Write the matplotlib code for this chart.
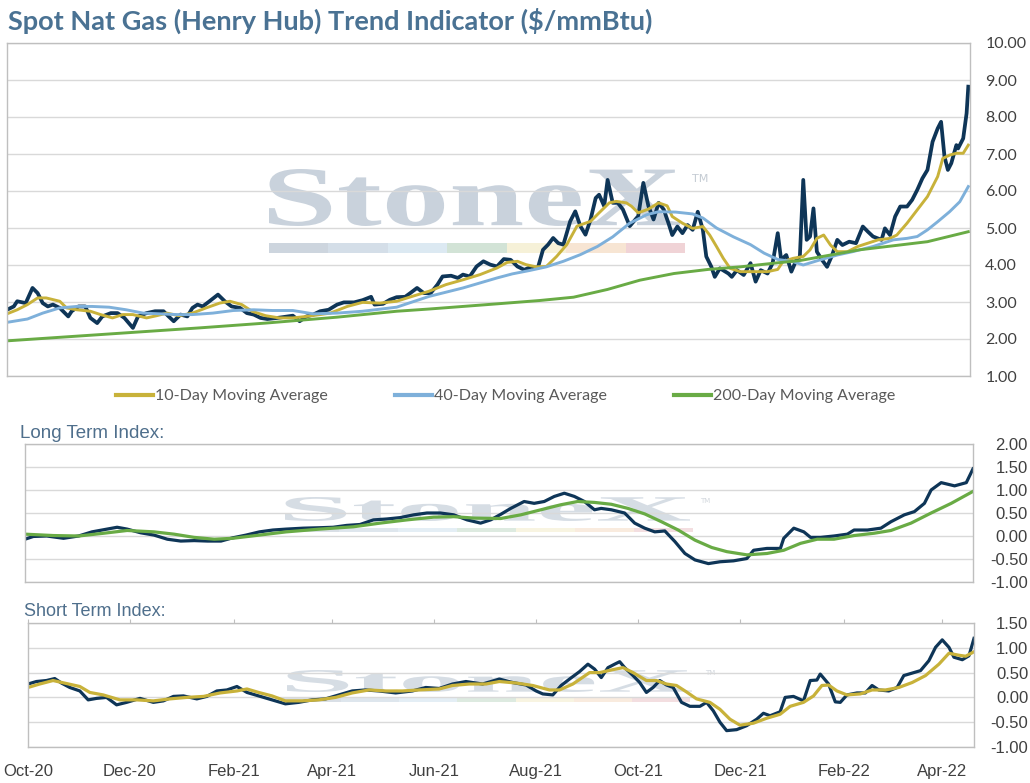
import numpy as np
import pandas as pd
import matplotlib
matplotlib.use("Agg")
import matplotlib.pyplot as plt
import matplotlib.dates as mdates
from matplotlib.textpath import TextPath
from matplotlib.font_manager import FontProperties
from matplotlib.patches import PathPatch, Rectangle
from matplotlib.path import Path

# ---------------- data ----------------
spot_dates = ["2020-10-01", "2020-10-05", "2020-10-07", "2020-10-12", "2020-10-16", "2020-10-19", "2020-10-22",
              "2020-10-25", "2020-10-28", "2020-11-01", "2020-11-06", "2020-11-08", "2020-11-12", "2020-11-16",
              "2020-11-19", "2020-11-23", "2020-11-26", "2020-12-01", "2020-12-05", "2020-12-09", "2020-12-14",
              "2020-12-17", "2020-12-22", "2020-12-27", "2021-01-01", "2021-01-04", "2021-01-07", "2021-01-11",
              "2021-01-15", "2021-01-18", "2021-01-21", "2021-01-24", "2021-01-28", "2021-02-02", "2021-02-06",
              "2021-02-10", "2021-02-15", "2021-02-19", "2021-02-23", "2021-02-27", "2021-03-03", "2021-03-09",
              "2021-03-15", "2021-03-18", "2021-03-22", "2021-03-26", "2021-03-30", "2021-04-03", "2021-04-08",
              "2021-04-13", "2021-04-17", "2021-04-23", "2021-04-28", "2021-05-03", "2021-05-05", "2021-05-10",
              "2021-05-14", "2021-05-18", "2021-05-23", "2021-05-26", "2021-05-30", "2021-06-03", "2021-06-07",
              "2021-06-11", "2021-06-14", "2021-06-19", "2021-06-23", "2021-06-26", "2021-06-30", "2021-07-04",
              "2021-07-08", "2021-07-12", "2021-07-16", "2021-07-20", "2021-07-24", "2021-07-28", "2021-08-01",
              "2021-08-05", "2021-08-09", "2021-08-12", "2021-08-15", "2021-08-18", "2021-08-21", "2021-08-24",
              "2021-08-28", "2021-08-31", "2021-09-03", "2021-09-06", "2021-09-09", "2021-09-12", "2021-09-14",
              "2021-09-17", "2021-09-19", "2021-09-22", "2021-09-25", "2021-09-28", "2021-10-02", "2021-10-07",
              "2021-10-10", "2021-10-13", "2021-10-16", "2021-10-19", "2021-10-22", "2021-10-25", "2021-10-27",
              "2021-10-30", "2021-11-02", "2021-11-05", "2021-11-08", "2021-11-11", "2021-11-14", "2021-11-16",
              "2021-11-19", "2021-11-21", "2021-11-24", "2021-11-29", "2021-12-01", "2021-12-04", "2021-12-08",
              "2021-12-12", "2021-12-15", "2021-12-18", "2021-12-22", "2021-12-25", "2021-12-28", "2021-12-30",
              "2022-01-02", "2022-01-05", "2022-01-08", "2022-01-10", "2022-01-12", "2022-01-14", "2022-01-16",
              "2022-01-18", "2022-01-20", "2022-01-23", "2022-01-26", "2022-01-29", "2022-02-01", "2022-02-04",
              "2022-02-08", "2022-02-12", "2022-02-16", "2022-02-19", "2022-02-22", "2022-02-27", "2022-03-01",
              "2022-03-04", "2022-03-07", "2022-03-10", "2022-03-14", "2022-03-17", "2022-03-20", "2022-03-23",
              "2022-03-26", "2022-03-29", "2022-04-01", "2022-04-03", "2022-04-05", "2022-04-07", "2022-04-09",
              "2022-04-12", "2022-04-13", "2022-04-16", "2022-04-18", "2022-04-19"]
spot_px = [2.79, 2.88, 3.02, 2.97, 3.38, 3.24, 2.97, 2.88, 2.93, 2.84, 2.61, 2.75, 2.88, 2.88, 2.57, 2.43, 2.61,
           2.70, 2.70, 2.57, 2.30, 2.61, 2.70, 2.75, 2.75, 2.61, 2.48, 2.66, 2.61, 2.84, 2.93, 2.88, 3.02, 3.20,
           3.02, 2.88, 2.84, 2.70, 2.66, 2.57, 2.54, 2.57, 2.61, 2.63, 2.48, 2.61, 2.66, 2.75, 2.79, 2.93, 2.99,
           2.99, 3.05, 3.14, 2.93, 2.95, 3.06, 3.13, 3.14, 3.24, 3.38, 3.24, 3.24, 3.47, 3.69, 3.71, 3.65, 3.74,
           3.69, 3.96, 4.10, 4.01, 3.96, 4.16, 4.14, 3.96, 3.87, 3.95, 3.92, 4.41, 4.55, 4.73, 4.59, 4.55, 5.18,
           5.45, 5.05, 4.82, 5.23, 5.81, 5.90, 5.59, 6.30, 5.68, 5.68, 5.50, 5.05, 5.32, 6.22, 5.59, 5.23, 5.68,
           5.50, 5.10, 4.81, 5.04, 4.86, 5.08, 4.95, 5.44, 4.95, 4.23, 3.95, 3.68, 3.91, 3.77, 3.68, 3.86, 3.73,
           4.05, 3.55, 3.86, 3.77, 4.05, 4.86, 4.14, 4.27, 3.82, 4.14, 4.23, 6.30, 4.68, 4.77, 5.53, 4.36, 4.14,
           3.95, 4.27, 4.68, 4.54, 4.63, 4.59, 5.04, 4.90, 4.77, 4.68, 4.99, 4.81, 5.31, 5.58, 5.58, 5.76, 6.03,
           6.34, 6.57, 7.33, 7.69, 7.87, 6.93, 6.57, 6.75, 7.24, 7.15, 7.42, 8.10, 8.82]

ma10_dates = ["2020-10-01", "2020-10-07", "2020-10-13", "2020-10-19", "2020-10-24", "2020-11-01", "2020-11-05",
              "2020-11-11", "2020-11-19", "2020-11-25", "2020-12-02", "2020-12-08", "2020-12-14", "2020-12-22",
              "2020-12-28", "2021-01-03", "2021-01-10", "2021-01-18", "2021-01-26", "2021-02-03", "2021-02-09",
              "2021-02-16", "2021-02-22", "2021-03-02", "2021-03-10", "2021-03-18", "2021-03-26", "2021-04-03",
              "2021-04-09", "2021-04-19", "2021-04-28", "2021-05-08", "2021-05-18", "2021-05-27", "2021-06-06",
              "2021-06-16", "2021-06-26", "2021-07-06", "2021-07-16", "2021-07-22", "2021-07-28", "2021-08-02",
              "2021-08-08", "2021-08-14", "2021-08-20", "2021-08-26", "2021-09-01", "2021-09-09", "2021-09-14",
              "2021-09-20", "2021-09-24", "2021-09-30", "2021-10-03", "2021-10-07", "2021-10-13", "2021-10-19",
              "2021-10-24", "2021-10-27", "2021-11-02", "2021-11-08", "2021-11-14", "2021-11-18", "2021-11-22",
              "2021-11-26", "2021-11-30", "2021-12-06", "2021-12-13", "2021-12-22", "2021-12-28", "2021-12-31",
              "2022-01-06", "2022-01-12", "2022-01-16", "2022-01-20", "2022-01-24", "2022-01-28", "2022-02-01",
              "2022-02-07", "2022-02-13", "2022-02-19", "2022-02-25", "2022-03-04", "2022-03-08", "2022-03-14",
              "2022-03-20", "2022-03-26", "2022-04-01", "2022-04-04", "2022-04-08", "2022-04-12", "2022-04-16",
              "2022-04-19"]
ma10_px = [2.68, 2.79, 2.93, 3.11, 3.11, 3.02, 2.84, 2.79, 2.75, 2.66, 2.57, 2.66, 2.66, 2.57, 2.63, 2.70, 2.63,
           2.70, 2.84, 2.97, 3.02, 2.93, 2.75, 2.63, 2.57, 2.57, 2.61, 2.66, 2.70, 2.88, 2.99, 2.97, 3.02, 3.15,
           3.29, 3.47, 3.60, 3.74, 3.92, 4.07, 4.10, 4.01, 3.95, 3.96, 4.23, 4.55, 5.05, 5.18, 5.41, 5.68, 5.72,
           5.68, 5.59, 5.41, 5.51, 5.68, 5.60, 5.31, 5.13, 4.99, 5.04, 4.81, 4.50, 4.18, 3.91, 3.82, 3.82, 3.82,
           3.88, 4.09, 4.18, 4.23, 4.41, 4.72, 4.81, 4.54, 4.36, 4.36, 4.50, 4.59, 4.68, 4.72, 4.81, 5.13, 5.49,
           5.85, 6.39, 6.88, 6.97, 7.02, 7.02, 7.24]

ma40_dates = ["2020-10-01", "2020-10-13", "2020-10-22", "2020-11-01", "2020-11-11", "2020-11-20", "2020-11-30",
              "2020-12-10", "2020-12-20", "2020-12-30", "2021-01-09", "2021-01-18", "2021-01-30", "2021-02-11",
              "2021-02-23", "2021-03-06", "2021-03-18", "2021-03-30", "2021-04-13", "2021-04-28", "2021-05-18",
              "2021-06-06", "2021-06-26", "2021-07-16", "2021-07-25", "2021-08-04", "2021-08-14", "2021-08-24",
              "2021-09-03", "2021-09-13", "2021-09-22", "2021-10-02", "2021-10-12", "2021-10-19", "2021-10-29",
              "2021-11-08", "2021-11-14", "2021-11-22", "2021-12-02", "2021-12-12", "2021-12-20", "2021-12-28",
              "2022-01-06", "2022-01-12", "2022-01-22", "2022-02-01", "2022-02-10", "2022-02-22", "2022-03-06",
              "2022-03-14", "2022-03-20", "2022-03-26", "2022-04-01", "2022-04-08", "2022-04-14", "2022-04-19"]
ma40_px = [2.45, 2.54, 2.70, 2.84, 2.88, 2.88, 2.86, 2.79, 2.70, 2.68, 2.66, 2.66, 2.70, 2.77, 2.79, 2.77, 2.77,
           2.68, 2.70, 2.75, 2.86, 3.15, 3.38, 3.65, 3.76, 3.85, 3.95, 4.10, 4.28, 4.50, 4.76, 5.13, 5.36, 5.44,
           5.43, 5.38, 5.27, 5.00, 4.76, 4.55, 4.32, 4.15, 4.09, 4.00, 4.14, 4.27, 4.36, 4.50, 4.68, 4.72, 4.77,
           4.95, 5.17, 5.44, 5.71, 6.12]

ma200_dates = ["2020-10-01", "2020-11-25", "2021-01-22", "2021-03-02", "2021-04-13", "2021-05-18", "2021-06-06",
               "2021-06-26", "2021-07-16", "2021-08-10", "2021-08-30", "2021-09-19", "2021-10-08", "2021-10-28",
               "2021-11-17", "2021-12-06", "2021-12-26", "2022-01-10", "2022-02-14", "2022-03-26", "2022-04-19"]
ma200_px = [1.95, 2.12, 2.30, 2.43, 2.59, 2.75, 2.81, 2.88, 2.95, 3.04, 3.13, 3.34, 3.59, 3.77, 3.88, 3.95, 4.05,
            4.12, 4.41, 4.63, 4.90]

lt_dates = ["2020-10-01", "2020-10-06", "2020-10-14", "2020-10-24", "2020-11-02", "2020-11-10", "2020-11-19",
            "2020-11-25", "2020-12-01", "2020-12-09", "2020-12-17", "2020-12-25", "2021-01-02", "2021-01-10",
            "2021-01-18", "2021-01-26", "2021-02-02", "2021-02-10", "2021-02-18", "2021-02-26", "2021-03-06",
            "2021-03-16", "2021-03-26", "2021-04-03", "2021-04-11", "2021-04-19", "2021-04-27", "2021-05-05",
            "2021-05-13", "2021-05-21", "2021-05-29", "2021-06-06", "2021-06-14", "2021-06-22", "2021-06-30",
            "2021-07-06", "2021-07-12", "2021-07-18", "2021-07-26", "2021-08-01", "2021-08-07", "2021-08-13",
            "2021-08-19", "2021-08-25", "2021-08-31", "2021-09-06", "2021-09-10", "2021-09-16", "2021-09-24",
            "2021-09-30", "2021-10-06", "2021-10-12", "2021-10-18", "2021-10-24", "2021-10-30", "2021-11-05",
            "2021-11-13", "2021-11-20", "2021-11-28", "2021-12-06", "2021-12-10", "2021-12-18", "2021-12-26",
            "2021-12-28", "2022-01-03", "2022-01-09", "2022-01-13", "2022-01-19", "2022-01-27", "2022-02-04",
            "2022-02-08", "2022-02-16", "2022-02-24", "2022-03-02", "2022-03-10", "2022-03-16", "2022-03-22",
            "2022-03-26", "2022-04-01", "2022-04-09", "2022-04-16", "2022-04-20"]
lt_idx = [-0.07, -0.01, 0.00, -0.05, 0.00, 0.09, 0.15, 0.19, 0.15, 0.07, 0.02, -0.07, -0.11, -0.10, -0.11, -0.11,
          -0.04, 0.02, 0.09, 0.13, 0.15, 0.17, 0.18, 0.19, 0.23, 0.25, 0.35, 0.37, 0.40, 0.46, 0.50, 0.50, 0.46,
          0.35, 0.28, 0.35, 0.47, 0.60, 0.75, 0.71, 0.75, 0.86, 0.93, 0.86, 0.75, 0.57, 0.60, 0.57, 0.50, 0.28,
          0.17, 0.09, 0.11, -0.12, -0.38, -0.52, -0.60, -0.56, -0.54, -0.49, -0.31, -0.27, -0.27, -0.05, 0.17,
          0.09, -0.03, -0.03, 0.00, 0.04, 0.13, 0.13, 0.17, 0.31, 0.46, 0.53, 0.71, 1.00, 1.16, 1.09, 1.16, 1.46]

lt_ma_dates = ["2020-10-01", "2020-10-18", "2020-11-02", "2020-11-17", "2020-12-01", "2020-12-17", "2020-12-29",
               "2021-01-10", "2021-01-22", "2021-02-02", "2021-02-18", "2021-03-06", "2021-03-26", "2021-04-15",
               "2021-05-01", "2021-05-17", "2021-06-02", "2021-06-14", "2021-06-26", "2021-07-12", "2021-07-24",
               "2021-08-05", "2021-08-17", "2021-08-27", "2021-09-06", "2021-09-16", "2021-09-26", "2021-10-06",
               "2021-10-16", "2021-10-26", "2021-11-05", "2021-11-15", "2021-11-24", "2021-12-06", "2021-12-18",
               "2021-12-28", "2022-01-07", "2022-01-17", "2022-01-27", "2022-02-08", "2022-02-20", "2022-03-02",
               "2022-03-14", "2022-03-26", "2022-04-07", "2022-04-20"]
lt_ma = [0.04, 0.01, 0.00, 0.06, 0.12, 0.09, 0.04, -0.03, -0.07, -0.05, 0.02, 0.09, 0.15, 0.20, 0.28, 0.35, 0.41,
         0.42, 0.39, 0.38, 0.46, 0.57, 0.68, 0.75, 0.73, 0.69, 0.60, 0.48, 0.31, 0.13, -0.09, -0.25, -0.34, -0.41,
         -0.38, -0.31, -0.16, -0.07, -0.07, 0.01, 0.06, 0.12, 0.28, 0.50, 0.71, 0.97]

st_dates = ["2020-10-01", "2020-10-06", "2020-10-12", "2020-10-17", "2020-10-21", "2020-10-26", "2020-11-01",
            "2020-11-06", "2020-11-11", "2020-11-17", "2020-11-23", "2020-11-29", "2020-12-07", "2020-12-15",
            "2020-12-21", "2020-12-27", "2021-01-02", "2021-01-10", "2021-01-16", "2021-01-22", "2021-01-28",
            "2021-02-03", "2021-02-09", "2021-02-16", "2021-02-24", "2021-03-04", "2021-03-12", "2021-03-20",
            "2021-03-28", "2021-04-05", "2021-04-13", "2021-04-21", "2021-04-29", "2021-05-09", "2021-05-19",
            "2021-05-27", "2021-06-04", "2021-06-12", "2021-06-20", "2021-06-30", "2021-07-10", "2021-07-18",
            "2021-07-26", "2021-08-01", "2021-08-05", "2021-08-11", "2021-08-16", "2021-08-21", "2021-08-27",
            "2021-09-01", "2021-09-05", "2021-09-09", "2021-09-13", "2021-09-17", "2021-09-20", "2021-09-23",
            "2021-09-28", "2021-10-02", "2021-10-06", "2021-10-10", "2021-10-14", "2021-10-18", "2021-10-22",
            "2021-10-27", "2021-11-01", "2021-11-07", "2021-11-11", "2021-11-15", "2021-11-19", "2021-11-23",
            "2021-11-29", "2021-12-05", "2021-12-11", "2021-12-15", "2021-12-19", "2021-12-25", "2021-12-28",
            "2022-01-02", "2022-01-08", "2022-01-12", "2022-01-16", "2022-01-18", "2022-01-23", "2022-01-27",
            "2022-01-30", "2022-02-03", "2022-02-09", "2022-02-14", "2022-02-18", "2022-02-22", "2022-02-28",
            "2022-03-05", "2022-03-09", "2022-03-14", "2022-03-19", "2022-03-24", "2022-03-28", "2022-04-01",
            "2022-04-05", "2022-04-08", "2022-04-13", "2022-04-17", "2022-04-20"]
st_idx = [0.27, 0.32, 0.34, 0.38, 0.29, 0.20, 0.13, -0.05, -0.02, 0.00, -0.15, -0.10, -0.02, -0.10, -0.07, 0.02,
          0.03, -0.03, 0.02, 0.13, 0.15, 0.22, 0.10, 0.03, -0.05, -0.13, -0.10, -0.05, -0.03, 0.05, 0.13, 0.15,
          0.13, 0.09, 0.13, 0.20, 0.18, 0.27, 0.32, 0.27, 0.37, 0.30, 0.25, 0.13, 0.07, 0.05, 0.24, 0.37, 0.52,
          0.67, 0.57, 0.40, 0.60, 0.67, 0.72, 0.60, 0.44, 0.30, 0.10, 0.20, 0.34, 0.25, 0.20, -0.10, -0.18, -0.18,
          -0.10, -0.27, -0.50, -0.67, -0.65, -0.57, -0.44, -0.32, -0.37, -0.29, 0.00, 0.02, -0.07, 0.34, 0.35,
          0.47, 0.27, -0.09, -0.10, 0.05, 0.09, 0.09, 0.24, 0.15, 0.13, 0.20, 0.44, 0.49, 0.54, 0.74, 1.01, 1.16,
          1.01, 0.81, 0.76, 0.84, 1.19]

st_ma_dates = ["2020-10-01", "2020-10-08", "2020-10-16", "2020-10-24", "2020-11-01", "2020-11-07", "2020-11-15",
               "2020-11-25", "2020-12-05", "2020-12-15", "2020-12-25", "2021-01-04", "2021-01-14", "2021-01-24",
               "2021-02-03", "2021-02-09", "2021-02-16", "2021-02-24", "2021-03-04", "2021-03-14", "2021-03-24",
               "2021-04-03", "2021-04-13", "2021-04-23", "2021-05-03", "2021-05-13", "2021-05-23", "2021-06-04",
               "2021-06-12", "2021-06-22", "2021-07-02", "2021-07-10", "2021-07-20", "2021-07-30", "2021-08-09",
               "2021-08-15", "2021-08-23", "2021-09-02", "2021-09-08", "2021-09-16", "2021-09-22", "2021-09-28",
               "2021-10-06", "2021-10-12", "2021-10-18", "2021-10-24", "2021-10-30", "2021-11-05", "2021-11-13",
               "2021-11-19", "2021-11-25", "2021-12-01", "2021-12-09", "2021-12-17", "2021-12-25", "2021-12-31",
               "2022-01-08", "2022-01-14", "2022-01-19", "2022-01-23", "2022-01-28", "2022-02-03", "2022-02-11",
               "2022-02-18", "2022-02-26", "2022-03-06", "2022-03-14", "2022-03-22", "2022-03-30", "2022-04-05",
               "2022-04-11", "2022-04-15", "2022-04-20"]
st_ma = [0.20, 0.27, 0.34, 0.28, 0.22, 0.10, 0.05, -0.05, -0.05, -0.07, -0.03, 0.00, 0.02, 0.09, 0.13, 0.17, 0.10,
         0.03, -0.07, -0.07, -0.05, 0.00, 0.09, 0.15, 0.13, 0.13, 0.15, 0.17, 0.24, 0.27, 0.27, 0.32, 0.29, 0.24,
         0.15, 0.15, 0.27, 0.50, 0.50, 0.56, 0.60, 0.50, 0.34, 0.34, 0.27, 0.24, 0.11, -0.03, -0.10, -0.24, -0.44,
         -0.56, -0.52, -0.42, -0.34, -0.18, -0.10, 0.03, 0.24, 0.25, 0.13, 0.05, 0.07, 0.15, 0.15, 0.20, 0.30,
         0.44, 0.67, 0.89, 0.85, 0.83, 0.92]

# ---------------- style ----------------
NAVY = "#0E3557"; GOLD = "#C8B23A"; BLUE = "#7EB0DA"; GREEN = "#69AB45"
GRID = "#D9D9D9"; EDGE = "#BFBFBF"; LBL = "#404040"; TITLE = "#4A7293"; WM = "#C9D2DC"
TOPFONT = ["Lato", "DejaVu Sans"]
LOWFONT = ["Liberation Sans Narrow", "Liberation Sans", "DejaVu Sans"]

W, H = 1030, 783
fig = plt.figure(figsize=(W / 100, H / 100), dpi=100)
fig.patch.set_facecolor("white")


def box(l, t, r, b):
    return [l / W, 1 - b / H, (r - l) / W, (b - t) / H]


x_start, x_end = pd.Timestamp("2020-10-01"), pd.Timestamp("2022-04-20")


def setup(ax, lo, hi, step, pad, fam, size, right_align=False):
    ax.set_xlim(x_start, x_end)
    ax.set_ylim(lo, hi)
    ticks = np.arange(lo, hi + step / 2, step)
    ax.set_yticks(ticks)
    ax.set_yticklabels([f"{t:.2f}" for t in ticks], family=fam, fontsize=size, color=LBL)
    ax.yaxis.tick_right()
    ax.tick_params(axis="y", length=0, pad=pad)
    if right_align:
        for tk in ax.yaxis.get_major_ticks():
            tk.label2.set_horizontalalignment("right")
    ax.grid(axis="y", color=GRID, lw=1)
    ax.set_axisbelow(True)
    for s in ax.spines.values():
        s.set_color(EDGE)
        s.set_linewidth(1)
    ax.set_xticks([])


def stonex(ax, l, t, r, b, bar_l, bar_r, bar_t, bar_b, tm_xy, tm_size, alpha):
    # watermark drawn in figure pixels (y down)
    fp = FontProperties(family=["Liberation Serif", "DejaVu Serif"], weight="bold")
    tp = TextPath((0, 0), "StoneX", size=100, prop=fp)
    ext = tp.get_extents()
    v = tp.vertices
    px = l + (v[:, 0] - ext.x0) / ext.width * (r - l)
    py = b - (v[:, 1] - ext.y0) / ext.height * (b - t)
    verts = np.column_stack([px / W, 1 - py / H])
    ax.add_artist(PathPatch(Path(verts, tp.codes), transform=fig.transFigure, facecolor=WM,
                            edgecolor="none", alpha=alpha, zorder=0.3))
    segs = ["#CDD5DE", "#D4DEE8", "#DCE9F2", "#D2E3D6", "#F6F1D8", "#F7E5D3", "#F0D3D6"]
    sw = (bar_r - bar_l) / len(segs)
    for i, c in enumerate(segs):
        ax.add_artist(Rectangle(((bar_l + i * sw) / W, 1 - bar_b / H), sw / W, (bar_b - bar_t) / H,
                                transform=fig.transFigure, facecolor=c, edgecolor="none",
                                alpha=alpha, zorder=0.3))
    ax.text(tm_xy[0] / W, 1 - tm_xy[1] / H, "TM", transform=fig.transFigure, fontsize=tm_size,
            color="#C4CBD3", alpha=alpha, family="DejaVu Sans", ha="left", va="center", zorder=0.3)


# ---------------- top: spot price & moving averages ----------------
ax1 = fig.add_axes(box(7, 43, 970, 376))
setup(ax1, 1, 10, 1, 11, TOPFONT, 11.5)
stonex(ax1, 269, 169, 680, 226, 269, 685, 243, 253, (692, 179), 8, 1.0)
ax1.plot(pd.to_datetime(spot_dates), spot_px, color=NAVY, lw=2.7, solid_joinstyle="round", zorder=2)
ax1.plot(pd.to_datetime(ma10_dates), ma10_px, color=GOLD, lw=2.1, solid_joinstyle="round", zorder=2,
         label="10-Day Moving Average")
ax1.plot(pd.to_datetime(ma40_dates), ma40_px, color=BLUE, lw=2.1, solid_joinstyle="round", zorder=2,
         label="40-Day Moving Average")
ax1.plot(pd.to_datetime(ma200_dates), ma200_px, color=GREEN, lw=2.1, solid_joinstyle="round", zorder=2,
         label="200-Day Moving Average")

fig.text(8 / W, 1 - 21 / H, "Spot Nat Gas (Henry Hub) Trend Indicator ($/mmBtu)", family=TOPFONT,
         fontsize=19.5, fontweight="bold", color=TITLE, ha="left", va="center")

leg = fig.legend(*ax1.get_legend_handles_labels(), loc="center", bbox_to_anchor=(506 / W, 1 - 396 / H),
                 ncol=3, frameon=False, handlelength=2.3, handletextpad=0.15, columnspacing=4.2,
                 prop={"family": TOPFONT, "size": 11.5})
for t in leg.get_texts():
    t.set_color("#595959")
for h in leg.legend_handles:
    h.set_linewidth(3)

# ---------------- middle: long term index ----------------
ax2 = fig.add_axes(box(25, 444, 973, 582))
setup(ax2, -1, 2, 0.5, 39.5, LOWFONT, 12, right_align=True)
stonex(ax2, 285, 497, 690, 521, 280, 693, 528, 532, (700, 501), 5, 0.75)
ax2.plot(pd.to_datetime(lt_dates), lt_idx, color=NAVY, lw=2.3, solid_joinstyle="round", zorder=2)
ax2.plot(pd.to_datetime(lt_ma_dates), lt_ma, color=GREEN, lw=2.3, solid_joinstyle="round", zorder=2)
fig.text(20 / W, 1 - 434 / H, "Long Term Index:", family=LOWFONT, fontsize=13.5, color="#4F6F8C",
         ha="left", va="center")

# ---------------- bottom: short term index ----------------
ax3 = fig.add_axes(box(28, 623, 974, 747))
setup(ax3, -1, 1.5, 0.5, 39, LOWFONT, 12, right_align=True)
stonex(ax3, 287, 670, 692, 692, 283, 690, 698, 702, (705, 673), 5, 0.75)
ax3.plot(pd.to_datetime(st_dates), st_idx, color=NAVY, lw=2.3, solid_joinstyle="round", zorder=2)
ax3.plot(pd.to_datetime(st_ma_dates), st_ma, color=GOLD, lw=2.3, solid_joinstyle="round", zorder=2)
fig.text(24 / W, 1 - 612 / H, "Short Term Index:", family=LOWFONT, fontsize=13, color="#4F6F8C",
         ha="left", va="center")

ax3.xaxis.set_major_locator(mdates.MonthLocator(bymonth=[2, 4, 6, 8, 10, 12]))
ax3.xaxis.set_major_formatter(mdates.DateFormatter("%b-%y"))
ax3.tick_params(axis="x", top=True, bottom=False, direction="out", length=3, color=EDGE,
                labelsize=12, labelcolor=LBL, pad=9)
for lab in ax3.get_xticklabels():
    lab.set_family(LOWFONT)
ax3.set_xlim(x_start, x_end)

fig.savefig("out.png", dpi=100, facecolor="white")
